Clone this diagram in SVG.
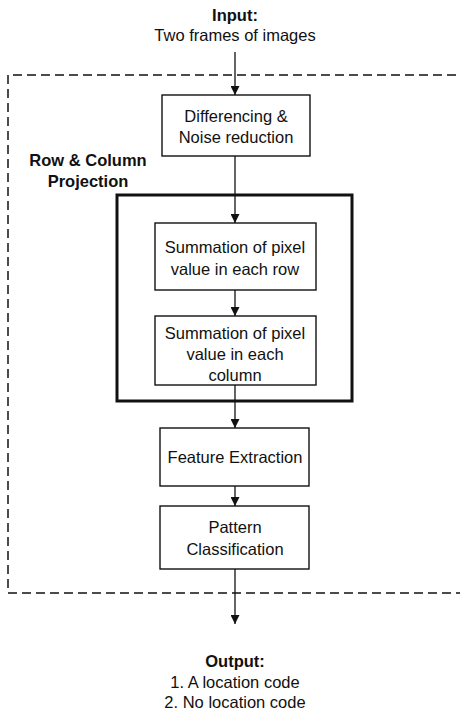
<svg xmlns="http://www.w3.org/2000/svg" width="460" height="711" viewBox="0 0 460 711">
  <style>
    .box { fill: #fff; stroke: #111; stroke-width: 1.4; }
    .group { fill: none; stroke: #111; stroke-width: 3; }
    .frame { fill: none; stroke: #111; stroke-width: 1.5; stroke-dasharray: 9 5; }
    .wire { fill: none; stroke: #111; stroke-width: 1.3; }
    text { font-family: "Liberation Sans", Arial, sans-serif; font-size: 16.5px; fill: #111; text-anchor: middle; }
    .bold { font-weight: bold; }
  </style>
  <defs>
    <marker id="arrow" viewBox="0 0 10 10" refX="10" refY="5" markerWidth="9" markerHeight="9" markerUnits="userSpaceOnUse" orient="auto">
      <path d="M0,0 L10,5 L0,10 Z" fill="#111"/>
    </marker>
  </defs>

  <rect width="460" height="711" fill="#fff"/>

  <!-- dashed processing frame (open on the right) -->
  <path id="frame" class="frame" d="M470,75 H8 V593 H470"/>

  <!-- row & column projection container -->
  <g id="projection">
    <rect class="group" x="117" y="195" width="235" height="206"/>
    <text class="bold" x="88" y="166">Row &amp; Column</text>
    <text class="bold" x="88" y="187">Projection</text>
  </g>

  <g id="connectors">
    <line class="wire" x1="235" y1="52" x2="235" y2="95" marker-end="url(#arrow)"/>
    <line class="wire" x1="235" y1="156" x2="235" y2="223" marker-end="url(#arrow)"/>
    <line class="wire" x1="235" y1="290" x2="235" y2="316" marker-end="url(#arrow)"/>
    <line class="wire" x1="235" y1="385" x2="235" y2="428" marker-end="url(#arrow)"/>
    <line class="wire" x1="235" y1="486" x2="235" y2="506" marker-end="url(#arrow)"/>
    <line class="wire" x1="235" y1="569" x2="235" y2="624" marker-end="url(#arrow)"/>
  </g>

  <g id="input">
    <text class="bold" x="235" y="21">Input:</text>
    <text x="235" y="41">Two frames of images</text>
  </g>

  <g id="differencing">
    <rect class="box" x="162" y="95" width="148" height="61"/>
    <text x="236" y="122">Differencing &amp;</text>
    <text x="236" y="143">Noise reduction</text>
  </g>

  <g id="row-sum">
    <rect class="box" x="155" y="223" width="161" height="67"/>
    <text x="235" y="253">Summation of pixel</text>
    <text x="235" y="275">value in each row</text>
  </g>

  <g id="column-sum">
    <rect class="box" x="155" y="316" width="161" height="69"/>
    <text x="235" y="339">Summation of pixel</text>
    <text x="235" y="360">value in each</text>
    <text x="235" y="381">column</text>
  </g>

  <g id="feature">
    <rect class="box" x="160" y="428" width="149" height="58"/>
    <text x="235" y="463">Feature Extraction</text>
  </g>

  <g id="pattern">
    <rect class="box" x="160" y="506" width="149" height="63"/>
    <text x="235" y="533">Pattern</text>
    <text x="235" y="555">Classification</text>
  </g>

  <g id="output">
    <text class="bold" x="235" y="667">Output:</text>
    <text x="235" y="688">1. A location code</text>
    <text x="235" y="708">2. No location code</text>
  </g>
</svg>
